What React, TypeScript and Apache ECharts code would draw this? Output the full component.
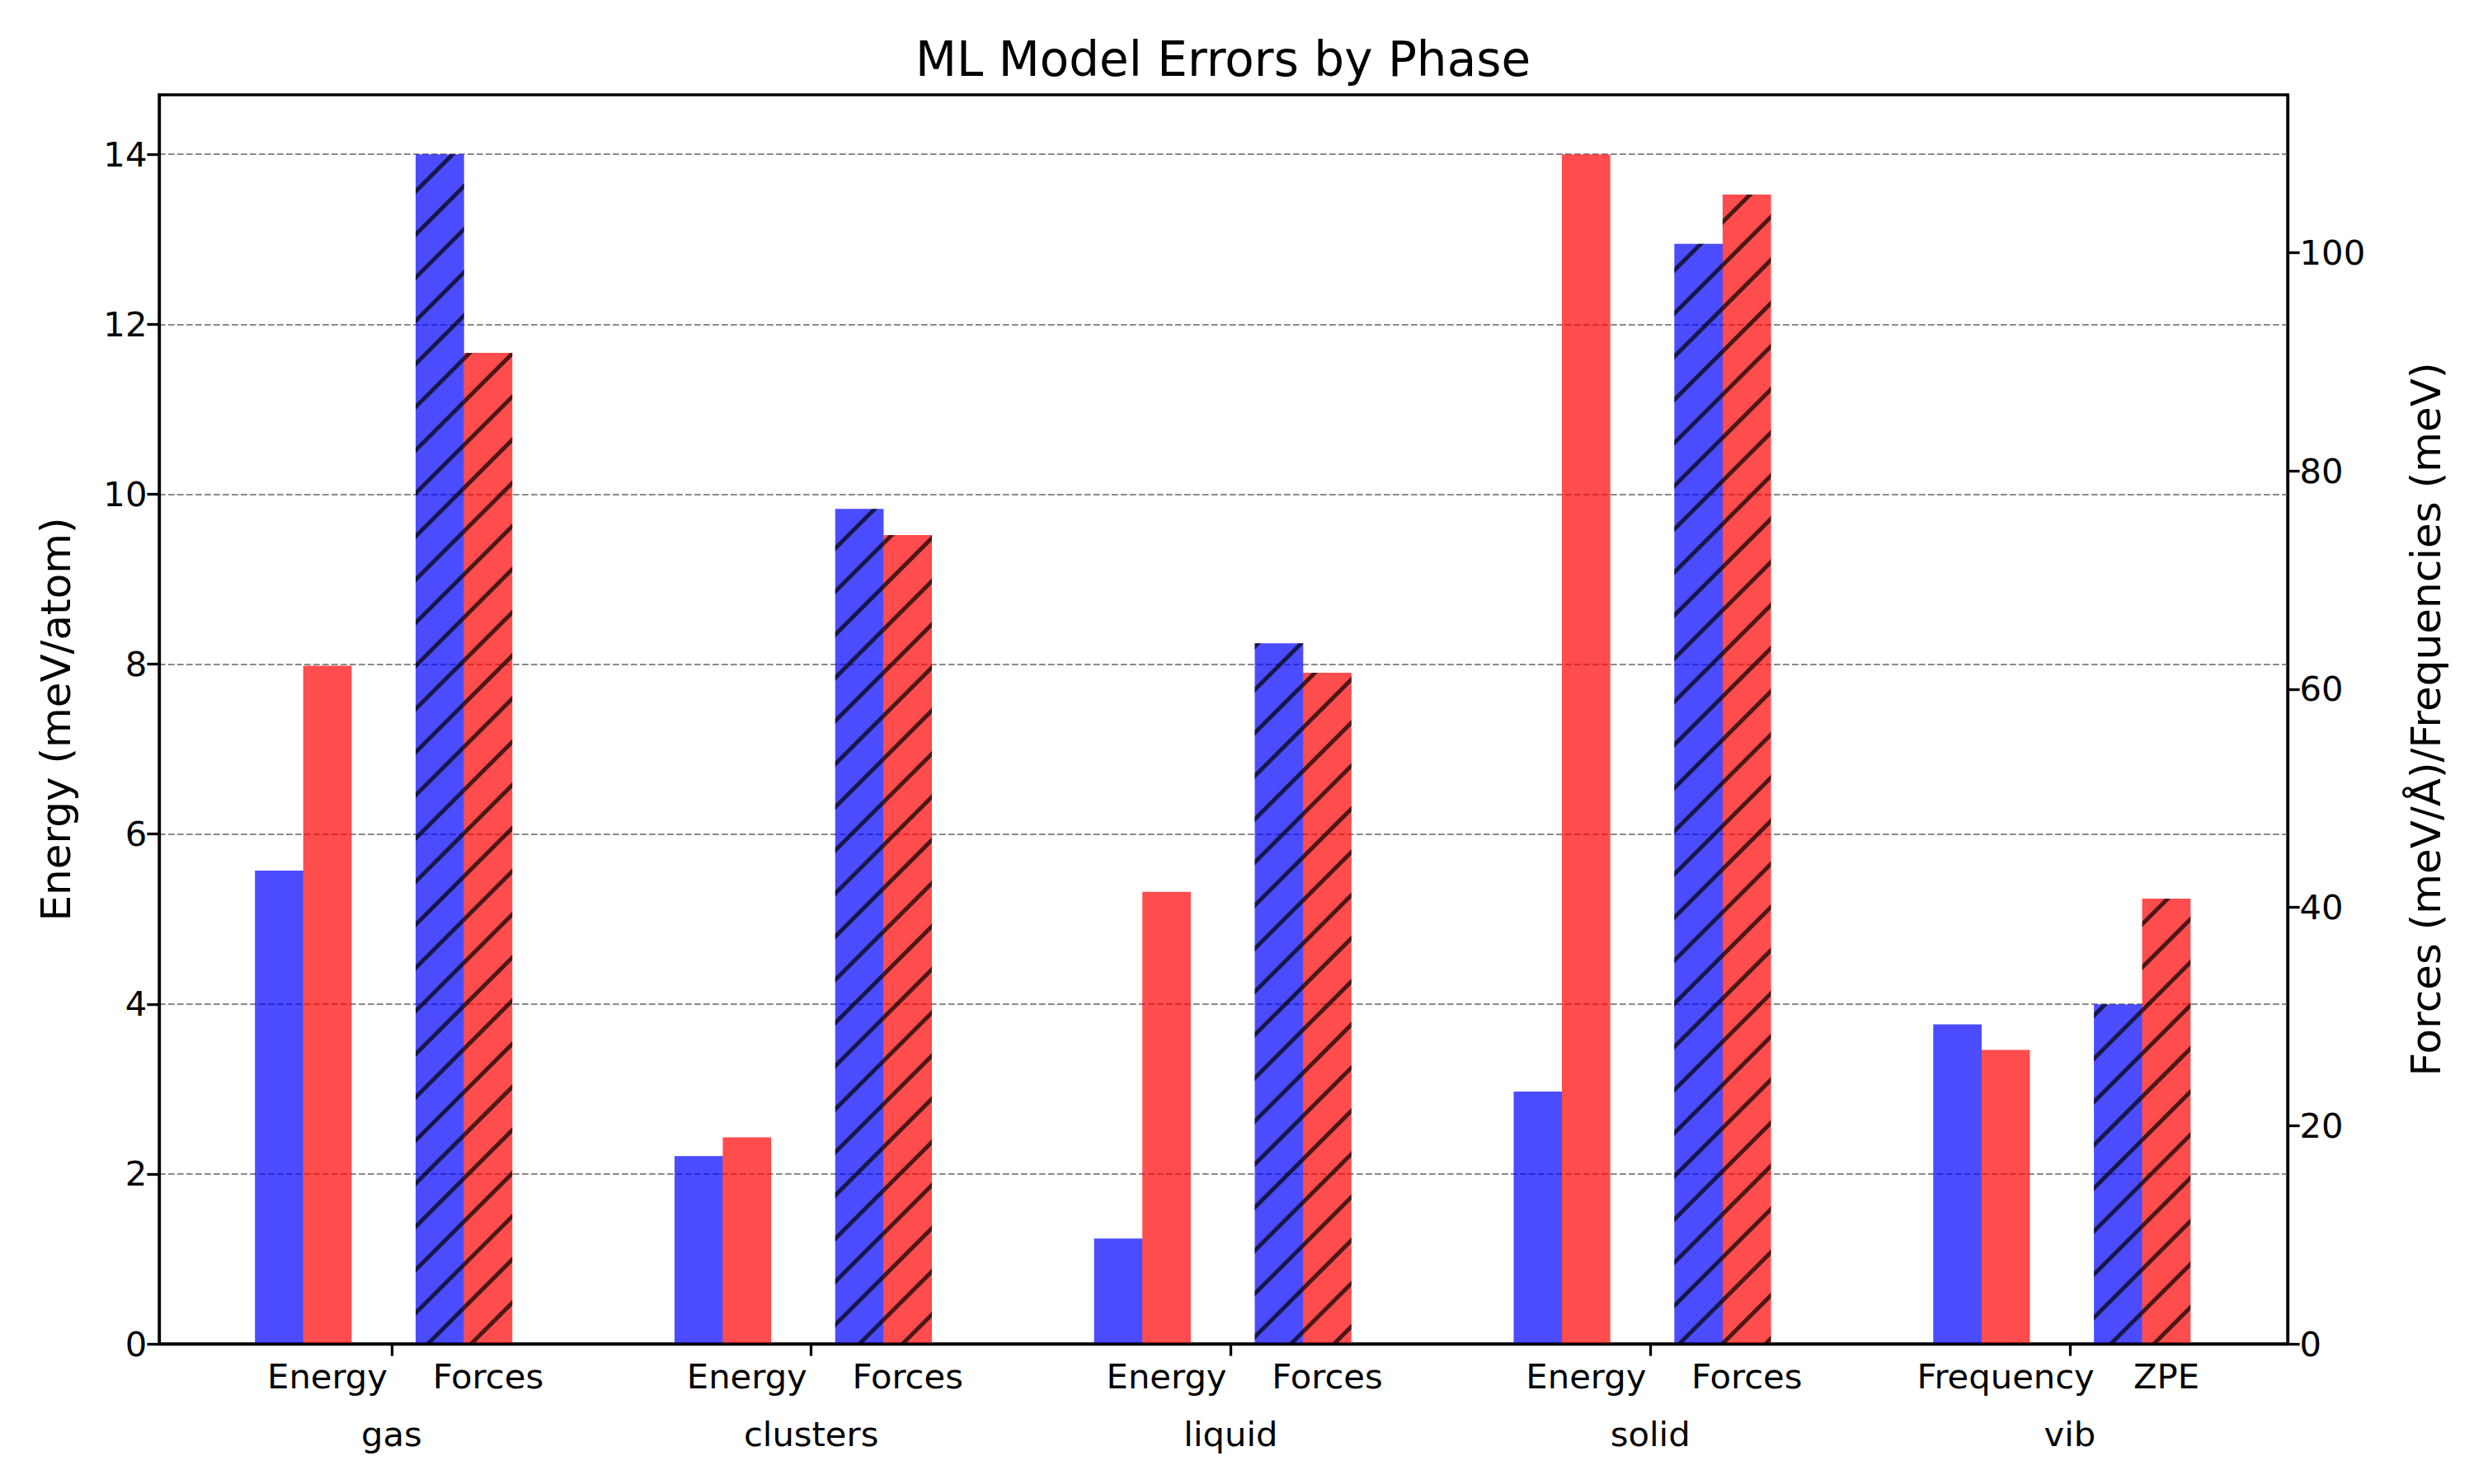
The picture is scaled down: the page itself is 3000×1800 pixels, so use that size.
import React, { useEffect, useRef } from "react";
import * as echarts from "echarts";

// ---- data ----
const groups = ["gas", "clusters", "liquid", "solid", "vib"];
const leftPairLabels = ["Energy", "Energy", "Energy", "Energy", "Frequency"];
const rightPairLabels = ["Forces", "Forces", "Forces", "Forces", "ZPE"];
// left axis (meV/atom): plain bars
const leftBlue = [5.57, 2.21, 1.24, 2.97, 3.76];
const leftRed = [7.98, 2.43, 5.32, 14.0, 3.46];
// right axis (meV/Å / meV): hatched bars
const rightBlue = [109.0, 76.5, 64.2, 100.8, 31.1];
const rightRed = [90.8, 74.1, 61.5, 105.3, 40.8];
const leftTicks = [0, 2, 4, 6, 8, 10, 12, 14];
const rightTicks = [0, 20, 40, 60, 80, 100];

// bar placement relative to each group's tick (x units)
const OFF_LB = -0.268;
const OFF_LR = -0.153;
const OFF_RB = 0.115;
const OFF_RR = 0.23;

const FONT = "DejaVu Sans";
const TICK = 41.7;

export default function App() {
  const ref = useRef<HTMLDivElement>(null);
  useEffect(() => {
    document.body.style.margin = "0";
    const chart = echarts.init(ref.current!, null, { renderer: "svg" });

    const subVals: number[] = [];
    const subNames: Record<string, string> = {};
    groups.forEach((_, i) => {
      const a = +(i + OFF_LR).toFixed(3);
      const b = +(i + OFF_RR).toFixed(3);
      subVals.push(a, b);
      subNames[a.toFixed(3)] = leftPairLabels[i];
      subNames[b.toFixed(3)] = rightPairLabels[i];
    });

    const hatch: any = {
      symbol: "rect",
      symbolSize: 1,
      symbolKeepAspect: false,
      color: "#000",
      backgroundColor: "transparent",
      dashArrayX: [10, 0],
      dashArrayY: [4.2, 31.2],
      rotation: -Math.PI / 4,
    };

    const xMin = -0.554;
    const xMax = 4.519;
    const barW = 58.7;

    const mk = (name: string, vals: number[], off: number, color: string, yIdx: number, hatched: boolean) => ({
      name,
      type: "bar",
      xAxisIndex: 0,
      yAxisIndex: yIdx,
      barWidth: barW,
      barGap: "-100%",
      data: vals.map((v, i) => [i + off, v]),
      itemStyle: {
        color,
        opacity: 0.7,
        ...(hatched ? { decal: hatch } : {}),
      },
      z: 2,
    });

    chart.setOption({
      animation: false,
      backgroundColor: "#fff",
      title: {
        text: "ML Model Errors by Phase",
        left: 1478,
        top: 38,
        textAlign: "center",
        textStyle: { fontFamily: FONT, fontSize: 58, fontWeight: "normal", color: "#000" },
      },
      grid: {
        left: 193,
        right: 226,
        top: 115,
        bottom: 170,
        show: true,
        borderColor: "#000",
        borderWidth: 3.3,
        backgroundColor: "transparent",
      },
      xAxis: [
        {
          type: "value",
          min: xMin,
          max: xMax,
          position: "bottom",
          z: 10,
          axisLine: { show: true, onZero: false, lineStyle: { color: "#000", width: 3.3 } },
          axisTick: { show: true, customValues: [0, 1, 2, 3, 4], length: 14.6, lineStyle: { color: "#000", width: 3.3 } },
          axisLabel: {
            customValues: [0, 1, 2, 3, 4],
            formatter: (v: number) => groups[Math.round(v)] ?? "",
            margin: 88,
            fontFamily: FONT,
            fontSize: TICK,
            color: "#000",
          },
          splitLine: { show: false },
        },
        {
          type: "value",
          min: xMin,
          max: xMax,
          position: "bottom",
          axisLine: { show: false, onZero: false },
          axisTick: { show: false },
          axisLabel: {
            customValues: subVals,
            formatter: (v: number) => subNames[(+v).toFixed(3)] ?? "",
            margin: 18,
            fontFamily: FONT,
            fontSize: TICK,
            color: "#000",
          },
          splitLine: { show: false },
        },
      ],
      yAxis: [
        {
          type: "value",
          min: 0,
          max: 14.7,
          position: "left",
          name: "Energy (meV/atom)",
          nameLocation: "middle",
          nameGap: 100,
          nameTextStyle: { fontFamily: FONT, fontSize: 50, color: "#000" },
          axisLine: { show: true, onZero: false, lineStyle: { color: "#000", width: 3.3 } },
          axisTick: { show: true, customValues: leftTicks, length: 14.6, lineStyle: { color: "#000", width: 3.3 } },
          axisLabel: { customValues: leftTicks, margin: 14.6, fontFamily: FONT, fontSize: TICK, color: "#000" },
          splitLine: { show: true, lineStyle: { color: "#8a8a8a", width: 2.1, type: [7.7, 3.3] } },
        },
        {
          type: "value",
          min: 0,
          max: 114.45,
          position: "right",
          name: "Forces (meV/Å)/Frequencies (meV)",
          nameLocation: "middle",
          nameGap: 143,
          nameTextStyle: { fontFamily: FONT, fontSize: 50, color: "#000" },
          axisLine: { show: true, onZero: false, lineStyle: { color: "#000", width: 3.3 } },
          axisTick: { show: true, customValues: rightTicks, length: 14.6, lineStyle: { color: "#000", width: 3.3 } },
          axisLabel: { customValues: rightTicks, margin: 14.6, fontFamily: FONT, fontSize: TICK, color: "#000" },
          splitLine: { show: false },
        },
      ],
      series: [
        mk("Energy A", leftBlue, OFF_LB, "#0000ff", 0, false),
        mk("Energy B", leftRed, OFF_LR, "#ff0000", 0, false),
        mk("Forces A", rightBlue, OFF_RB, "#0000ff", 1, true),
        mk("Forces B", rightRed, OFF_RR, "#ff0000", 1, true),
      ],
    });
    return () => chart.dispose();
  }, []);
  return <div ref={ref} style={{ width: 3000, height: 1800 }} />;
}
